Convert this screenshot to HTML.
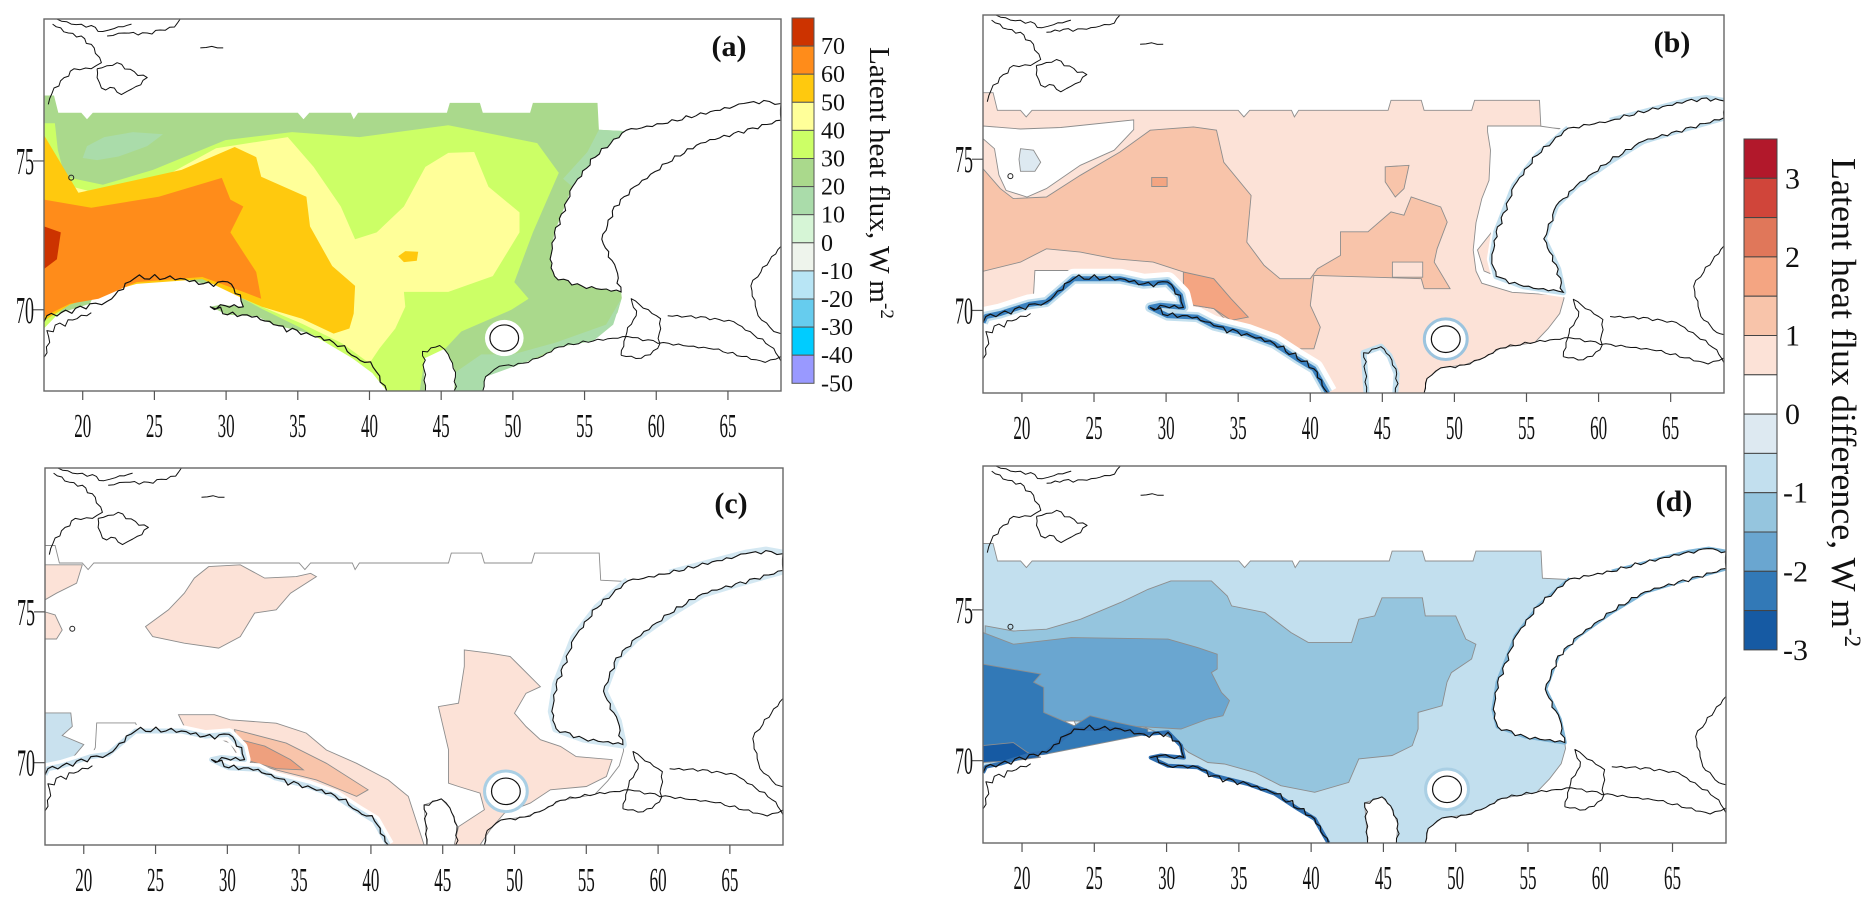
<!DOCTYPE html>
<html><head><meta charset="utf-8"><title>Latent heat flux maps</title>
<style>
html,body{margin:0;padding:0;background:#fff;}
svg{display:block;font-family:"Liberation Serif","DejaVu Serif",serif;}
</style></head>
<body>
<svg id="fig" width="1874" height="909" viewBox="0 0 1874 909" xmlns="http://www.w3.org/2000/svg">
<defs id="defs"></defs>
</svg>
<script>
// ---------- axis ranges & tick data ----------
const LON_MIN = 17.3, LON_MAX = 68.7, LAT_MIN = 67.27, LAT_MAX = 79.77;
const lonTicks = [20,25,30,35,40,45,50,55,60,65];
const latTicks = [70,75];
const panelLetters = ['(a)','(b)','(c)','(d)'];
const cbALabels = ['70','60','50','40','30','20','10','0','-10','-20','-30','-40','-50'];
const cbAColors = ['#cc3300','#ff8c1a','#ffc90e','#ffff99','#ccff66','#aad98c','#aadcaa','#d6f5d6','#eef4ec','#b8e5f5','#66ccee','#00ccff','#9999ff'];
const cbBLabels = ['3','','2','','1','','0','','-1','','-2','','-3'];
const cbBColors = ['#b2182b','#d0453a','#e0775a','#f4a582','#f8c4aa','#fce2d7','#ffffff','#dde9f1','#c2dfee','#95c5de','#6aa6d0','#3279b7','#165aa3'];

// ---------- map geometry (lon, lat) ----------
const OCEAN = [[17.3,77.2],[18.0,77.2],[18.3,76.62],[19.9,76.62],[20.3,76.4],[20.7,76.62],[35.0,76.62],[35.4,76.4],[35.8,76.62],[38.7,76.62],[38.9,76.4],[39.2,76.62],[45.4,76.62],[45.6,76.95],[47.7,76.95],[47.9,76.62],[51.2,76.62],[51.4,76.95],[55.9,76.95],[56.0,76.05],[58.0,76.0],[55.75,75.13],[54.15,74.13],[52.9,72.6],[52.6,71.7],[52.9,71.13],[54.8,70.8],[57.55,70.6],[57.6,70.4],[57.3,69.9],[56.5,69.4],[55.6,68.95],[53.2,68.75],[52.1,68.45],[50.7,68.2],[49.05,68.1],[48.1,67.75],[47.9,67.27],[45.9,67.27],[46.0,67.9],[45.5,68.5],[44.9,68.8],[43.7,68.6],[43.8,68.0],[43.9,67.27],[41.2,67.27],[40.25,68.07],[39.1,68.4],[37.5,68.9],[35.6,69.23],[33.3,69.5],[32.15,69.78],[30.1,69.83],[28.9,70.1],[29.6,70.17],[31.2,70.1],[31.0,70.5],[30.1,70.94],[28.45,70.88],[26.8,71.05],[23.8,71.1],[23.6,71.32],[20.9,71.32],[20.8,70.5],[20.5,70.2],[19.5,70.05],[18.5,69.9],[17.5,69.8],[17.3,69.6]];
const KOLGUEV = [49.4,69.05,1.0,0.44];

// panel (a) contour bands
const A_MINT = [[20.0,75.1],[20.3,75.5],[21.5,75.8],[23.5,75.97],[25.6,75.9],[24.5,75.5],[22.5,75.15],[21,75.03]];
const A_MINT_E = [[56.0,76.05],[58.0,76.0],[55.75,75.13],[54.15,74.13],[53.5,74.4],[55.2,75.3]];
const A_MINT_S = [[46.0,67.27],[46.0,67.9],[47.8,68.5],[50,68.5],[53,68.9],[56.5,69.5],[57.6,70.4],[57.0,69.5],[55.6,68.95],[53.2,68.75],[50.7,68.2],[48.1,67.75],[47.9,67.27]];
const A_LIME = [[17.3,76.27],[18.06,76.27],[18.26,75.37],[18.75,74.47],[21.4,74.2],[24.9,74.7],[29.95,75.7],[34.6,75.97],[39.3,75.8],[45.5,76.2],[51.7,75.6],[53.2,74.6],[51.4,72.6],[50.1,70.93],[51.1,70.37],[49.9,70.0],[46.4,69.27],[45.3,68.7],[43.85,68.37],[43.5,67.27],[41.2,67.27],[40.2,67.87],[38.8,68.37],[35.3,69.37],[32.5,70.03],[31.2,70.37],[28.35,71.13],[23.76,70.93],[21.1,70.6],[19.1,70.27],[17.3,69.37]];
const A_YELLOW = [[17.3,75.37],[18.06,75.03],[18.75,74.2],[21.4,73.87],[24.9,74.27],[29.3,75.43],[34.3,75.8],[36.1,74.8],[38.0,73.47],[39.0,72.37],[40.5,72.6],[42.4,73.47],[43.9,74.8],[45.5,75.27],[47.3,75.3],[48.3,74.13],[50.46,73.27],[50.46,72.6],[48.6,71.13],[45.5,70.6],[42.4,70.6],[42.5,70.1],[41.8,69.37],[40.7,68.7],[40.0,68.2],[38.1,68.87],[35.3,69.53],[32.5,70.1],[31.2,70.37],[28.35,71.13],[23.76,70.93],[21.1,70.6],[19.1,70.27],[17.3,69.7]];
const A_GOLD = [[17.3,75.87],[19.7,73.93],[26.9,74.7],[30.6,75.47],[32.1,75.13],[32.45,74.47],[35.6,73.8],[35.85,72.8],[37.4,71.47],[39.0,70.8],[38.9,69.87],[38.6,69.37],[37.5,69.2],[35.3,69.7],[32.5,70.1],[31.2,70.37],[28.35,71.03],[23.76,70.87],[21.1,70.5],[19.1,70.17],[17.3,69.63]];
const A_GOLD_DOT = [[42.0,71.8],[42.5,71.97],[43.4,71.95],[43.3,71.65],[42.4,71.6]];
const A_ORANGE = [[17.3,73.7],[20.6,73.43],[25.3,73.8],[29.7,74.43],[30.3,73.7],[31.2,73.47],[30.3,72.6],[31.2,71.93],[32.1,71.27],[32.45,70.37],[31.2,70.6],[28.35,71.1],[23.76,70.93],[21.1,70.37],[19.1,70.2],[17.3,69.77]];
const A_RED = [[17.3,72.8],[18.47,72.6],[18.2,71.7],[17.3,71.37]];

// panel (b)
const B_WHITE_N = [[17.3,76.1],[19.9,76.0],[22.7,76.05],[27.75,76.3],[27.75,75.98],[26.4,75.3],[24.05,74.8],[21.7,74.03],[20.35,73.75],[18.9,73.97],[18.4,74.48],[18.1,75.35],[17.3,75.68]];
const B_BLUE_N = [[19.9,75.35],[20.8,75.3],[21.3,74.9],[20.9,74.6],[19.9,74.6],[19.8,75.0]];
const B_WHITE_E = [[52.3,76.1],[55.9,76.1],[57.9,75.96],[56,74.2],[53.7,73.3],[52.5,72.54],[51.6,72.0],[52.06,71.3],[54.1,70.9],[57.4,70.7],[57.4,70.5],[54,70.6],[51.9,70.9],[51.5,71.3],[51.3,72.0],[51.5,72.9],[51.9,73.7],[52.4,74.3],[52.5,75.3],[52.3,75.9]];
const B_MID = [[17.1,74.8],[18.5,74.03],[19.4,73.7],[21.7,73.75],[24.05,74.47],[26.8,75.24],[28.9,75.96],[31.9,76.07],[33.5,75.96],[34.0,74.9],[35.9,73.8],[35.6,72.26],[36.8,71.49],[37.9,71.05],[40.0,71.05],[40.5,71.38],[42.1,71.82],[42.1,72.6],[44.0,72.6],[45.6,73.26],[46.5,73.15],[47.0,73.75],[49.05,73.42],[49.5,72.92],[48.8,72.04],[48.6,71.6],[49.7,70.72],[47.9,70.72],[47.7,71.05],[40.25,71.16],[40.0,70.17],[40.7,69.45],[40.25,68.73],[39.1,68.73],[37.9,69.06],[36.1,69.39],[34.2,69.67],[33.3,70.06],[31.9,70.17],[31.2,70.5],[31.2,71.27],[29.1,71.6],[26.4,71.71],[24.05,71.93],[21.7,72.04],[19.9,71.6],[17.1,71.27]];
const B_MID_BLOB = [[45.2,74.75],[46.85,74.8],[46.5,74.03],[45.9,73.75],[45.2,74.25]];
const B_LIGHT_RECT = [[45.7,71.6],[47.8,71.6],[47.8,71.1],[45.7,71.1]];
const B_HIGH = [[31.2,71.27],[33.3,71.05],[34.5,70.39],[35.7,69.78],[34.5,69.67],[33.3,70.06],[31.9,70.17],[31.2,70.5]];
const B_HIGH_SQ = [[29.0,74.4],[30.07,74.4],[30.07,74.1],[29.0,74.1]];

// panel (c)
const C_P1 = [[28.7,76.5],[30.9,76.56],[32.6,76.12],[34.8,76.17],[35.8,76.28],[36.2,76.17],[34.4,75.62],[33.4,75.07],[31.9,74.96],[30.9,74.18],[29.4,73.8],[27.0,73.96],[24.8,74.18],[24.3,74.51],[25.9,75.07],[27.0,75.62],[27.7,76.12]];
const C_P2A = [[17.3,76.56],[19.9,76.56],[19.5,75.95],[18.1,75.62],[17.3,75.4]];
const C_P2B = [[17.3,75.0],[18.0,74.9],[18.5,74.4],[18.1,74.1],[17.3,74.1]];
const C_P3 = [[26.6,71.59],[29.1,71.59],[30.2,71.42],[33.4,71.31],[35.5,70.98],[36.9,70.42],[39.0,69.98],[41.2,69.43],[42.6,68.88],[43.7,67.27],[41.2,67.27],[40.5,67.88],[39.0,68.44],[36.9,68.88],[34.4,69.43],[32.6,69.76],[30.9,70.1],[30.2,70.65],[28.4,70.98],[27.0,71.2]];
const C_P3_MID = [[30.5,71.1],[34.1,70.65],[36.9,69.98],[39.8,69.1],[39.0,68.88],[36.2,69.43],[33.4,69.76],[30.9,70.1]];
const C_P3_HIGH = [[30.9,70.76],[32.6,70.55],[34.4,70.1],[35.3,69.76],[33.4,69.8],[31.2,70.1]];
const C_RED = [[30.3,70.1],[31.4,70.1],[31.4,69.76],[30.3,69.76]];
const C_P4 = [[46.5,73.74],[48.3,73.63],[49.7,73.52],[50.4,73.19],[51.8,72.52],[50.8,72.3],[50.0,71.64],[50.8,71.2],[51.8,70.76],[53.2,70.54],[54.3,70.2],[56.8,70.1],[56.4,69.54],[55.0,69.21],[52.5,69.1],[51.1,68.66],[49.3,68.33],[48.3,67.77],[47.6,67.27],[45.8,67.27],[46.1,67.88],[47.9,68.44],[47.6,68.99],[46.1,69.21],[45.4,69.32],[45.4,70.43],[44.7,71.86],[46.1,71.97],[46.5,73.19]];
const C_BLUE_W = [[17.3,71.65],[19.1,71.65],[19.2,71.2],[18.5,70.9],[20.0,70.6],[19.3,70.2],[17.3,69.8]];

// panel (d)
const D_MED = [[17.45,74.47],[19.4,74.3],[21.7,74.36],[24.05,74.69],[26.8,75.24],[28.7,75.68],[30.3,75.96],[33.1,75.96],[34.2,75.46],[34.5,75.13],[36.8,74.91],[38.6,74.25],[39.8,73.92],[42.8,73.92],[43.3,74.69],[44.4,74.8],[44.9,75.4],[47.7,75.4],[47.9,74.8],[50.0,74.8],[50.7,74.03],[51.4,73.86],[51.1,73.37],[49.7,72.92],[49.4,72.6],[49.05,71.82],[47.4,71.6],[47.4,71.05],[47.0,70.5],[45.6,70.17],[43.3,70.06],[42.6,69.28],[40.25,68.95],[37.9,69.17],[36.1,69.61],[34.0,69.89],[32.85,69.94],[31.5,70.28],[30.5,70.72],[28.2,71.16],[24.05,71.38],[17.3,71.38]];
const D_STRONG = [[17.3,74.25],[19.4,73.86],[23.4,74.08],[30.1,74.03],[32.15,73.75],[33.5,73.53],[33.5,73.04],[33.1,72.92],[33.8,72.26],[34.35,71.99],[33.9,71.49],[32.85,71.38],[31.0,71.05],[27.1,71.16],[24.05,71.32],[17.3,71.27]];
const D_STRONGER = [[17.3,73.2],[21.3,72.87],[20.8,72.6],[21.5,72.43],[21.5,71.6],[23.6,71.16],[24.7,71.49],[26.6,71.27],[28.7,71.05],[28.7,70.88],[21.5,70.2],[17.3,70.06]];
const D_STRONGEST = [[17.3,70.5],[19.4,70.6],[20.35,70.28],[21.3,70.11],[19.4,70.0],[17.3,69.94]];

// coastlines
const COAST_NOR = [[17.3,69.6],[17.5,69.8],[18.5,69.9],[19.5,70.05],[20.5,70.2],[21.7,70.28],[23.6,71.05],[26.8,71.05],[28.45,70.88],[30.1,70.94],[31.0,70.5],[31.2,70.1],[29.6,70.17],[28.9,70.1],[30.1,69.83],[32.15,69.78],[33.3,69.5],[35.6,69.23],[37.5,68.9],[39.1,68.4],[40.25,68.07],[41.2,67.27]];
const COAST_NOR2 = [[17.3,68.4],[17.7,68.9],[17.5,69.3],[18.4,69.55],[19.6,69.7],[20.6,69.9]];
const COAST_WS = [[43.9,67.27],[43.8,68.0],[43.7,68.6],[44.9,68.8],[45.5,68.5],[46.0,67.9],[45.9,67.27]];
const COAST_E = [[47.9,67.27],[48.1,67.75],[49.05,68.1],[50.7,68.2],[52.1,68.45],[53.2,68.75],[55.6,68.95],[58.0,69.1],[60.5,68.9],[64,68.67],[67.6,68.23],[68.7,68.43]];
const COAST_VAY = [[57.55,68.47],[58.95,68.37],[60.1,68.7],[60.3,69.7],[58.25,70.37],[58.6,69.8],[58.0,69.4],[57.55,68.47]];
const COAST_KARA = [[60.8,69.8],[63.1,69.77],[65.4,69.6],[68.2,68.7],[68.7,68.27]];
const COAST_YAMAL = [[68.7,72.13],[67.3,71.27],[66.6,70.8],[67.1,69.8],[68.2,69.27],[68.7,69.2]];
const NZ = [[57.9,76.03],[55.75,75.13],[54.15,74.13],[52.9,72.6],[52.6,71.7],[52.9,71.13],[54.8,70.8],[57.55,70.6],[57.2,71.37],[56.2,72.37],[57.07,73.47],[58.46,74.13],[60.8,74.93],[63.1,75.6],[65.4,75.93],[68.7,76.37],[68.7,76.93],[67.5,77.03],[66.1,76.93],[60.8,76.27]];
const SVAL1 = [[17.9,79.6],[19.0,79.3],[19.9,79.2],[20.8,78.8],[21.3,78.3],[20.6,78.1],[19.4,78.1],[18.7,77.8],[18.0,77.45],[17.7,77.1],[17.6,76.9]];
const SVAL2 = [[21.0,78.1],[21.7,78.2],[22.4,78.3],[23.6,78.0],[24.5,77.8],[24.05,77.56],[23.1,77.34],[22.7,77.23],[22.2,77.45],[21.3,77.45],[21.0,77.8],[21.0,78.1]];
const SVAL3 = [[21.7,79.2],[22.9,79.3],[24.5,79.3],[25.4,79.4],[26.4,79.5],[26.8,79.77]];
const SVAL4 = [[18.2,79.77],[19.2,79.6],[20.6,79.55],[21.4,79.35],[22.2,79.45],[23.4,79.6]];
const ISLE = [[28.2,78.8],[29.0,78.85],[29.8,78.8]];

const PANELS = [
  {id:'a', x0:44, y0:19, x1:781, y1:391},
  {id:'b', x0:983, y0:15, x1:1724, y1:393},
  {id:'c', x0:45, y0:468, x1:783, y1:845},
  {id:'d', x0:983, y0:466, x1:1726, y1:843}
];

const NS = 'http://www.w3.org/2000/svg';
const svg = document.getElementById('fig');
const defs = document.getElementById('defs');
function mk(tag, attrs, parent){
  const e = document.createElementNS(NS, tag);
  for (const k in attrs) e.setAttribute(k, attrs[k]);
  (parent||svg).appendChild(e);
  return e;
}
function xScale(p, lon){ return p.x0 + (lon-LON_MIN)/(LON_MAX-LON_MIN)*(p.x1-p.x0); }
function yScale(p, lat){ return p.y0 + (LAT_MAX-lat)/(LAT_MAX-LAT_MIN)*(p.y1-p.y0); }
function pts(p, arr){ return arr.map(q => xScale(p,q[0]).toFixed(1)+','+yScale(p,q[1]).toFixed(1)).join(' '); }
function jagPath(p, arr, amp){
  let d = '';
  let k = 0;
  for (let i=0;i<arr.length;i++){
    const x = xScale(p,arr[i][0]), y = yScale(p,arr[i][1]);
    if (i===0){ d += 'M'+x.toFixed(1)+' '+y.toFixed(1); continue; }
    const px = xScale(p,arr[i-1][0]), py = yScale(p,arr[i-1][1]);
    const len = Math.hypot(x-px,y-py);
    const n = Math.max(1, Math.round(len/5));
    const nx = -(y-py)/(len||1), ny = (x-px)/(len||1);
    for (let j=1;j<=n;j++){
      const t = j/n;
      k++;
      const off = (j<n) ? amp*Math.sin(k*2.3)*((k%3===0)?1.8:0.6) : 0;
      d += ' L'+(px+(x-px)*t+nx*off).toFixed(1)+' '+(py+(y-py)*t+ny*off).toFixed(1);
    }
  }
  return d;
}
function band(g, p, arr, fill, name, stroke){
  const el = mk('polygon', {points: pts(p,arr), fill: fill, stroke: stroke||'none', 'stroke-width': stroke?0.9:0}, g);
  
  
  return el;
}
function line(g, p, arr, color, w, name, closed){
  const el = mk(closed?'polygon':'polyline', {points: pts(p,arr), fill: closed?'#fff':'none', stroke: color, 'stroke-width': w, 'stroke-linejoin':'round'}, g);
  
  
  return el;
}
function jag(g, p, arr, color, w, amp, name){
  const el = mk('path', {d: jagPath(p,arr,amp), fill:'none', stroke: color, 'stroke-width': w, 'stroke-linejoin':'round'}, g);
  
  
  return el;
}

PANELS.forEach((p, idx) => {
  const clip = mk('clipPath', {id:'clip-'+p.id}, defs);
  mk('rect', {x:p.x0, y:p.y0, width:p.x1-p.x0, height:p.y1-p.y0}, clip);
  const g = mk('g', {'clip-path':'url(#clip-'+p.id+')'});
  
  
  const grey = (p.id==='a') ? null : '#8d8d8d';

  if (p.id==='a'){
    band(g,p,OCEAN,'#aad98c','ocean-band-20-30');
    band(g,p,A_MINT_S,'#aadcaa','band-10-20-south');
    band(g,p,A_MINT_E,'#aadcaa','band-10-20-east');
    band(g,p,A_MINT,'#aadcaa','band-10-20-north');
    band(g,p,A_LIME,'#ccff66','band-30-40');
    band(g,p,A_YELLOW,'#ffff99','band-40-50');
    band(g,p,A_GOLD,'#ffc90e','band-50-60');
    band(g,p,A_GOLD_DOT,'#ffc90e','band-50-60-spot');
    band(g,p,A_ORANGE,'#ff8c1a','band-60-70');
    band(g,p,A_RED,'#cc3300','band-70-plus');
  } else if (p.id==='b'){
    band(g,p,OCEAN,'#fce2d7','ocean-diff-0.5-1',grey);
    band(g,p,B_WHITE_N,'#ffffff','diff-0-0.5-north',grey);
    band(g,p,B_BLUE_N,'#dde9f1','diff-neg-north',grey);
    band(g,p,B_WHITE_E,'#ffffff','diff-0-0.5-east',grey);
    band(g,p,B_MID,'#f8c4aa','diff-1-1.5',grey);
    band(g,p,B_MID_BLOB,'#f8c4aa','diff-1-1.5-blob',grey);
    band(g,p,B_LIGHT_RECT,'#fce2d7','diff-0.5-1-patch',grey);
    band(g,p,B_HIGH,'#f4a582','diff-1.5-2',grey);
    band(g,p,B_HIGH_SQ,'#f4a582','diff-1.5-2-square',grey);
  } else if (p.id==='c'){
    band(g,p,OCEAN,'#ffffff','ocean-diff-0-0.5',grey);
    band(g,p,C_P1,'#fce2d7','diff-0.5-1-north',grey);
    band(g,p,C_P2A,'#fce2d7','diff-0.5-1-west-a',grey);
    band(g,p,C_P2B,'#fce2d7','diff-0.5-1-west-b',grey);
    band(g,p,C_P4,'#fce2d7','diff-0.5-1-east',grey);
    band(g,p,C_P3,'#fce2d7','diff-0.5-1-coast',grey);
    band(g,p,C_P3_MID,'#f8c4aa','diff-1-1.5-coast',grey);
    band(g,p,C_P3_HIGH,'#eea07e','diff-1.5-2-coast',grey);
    band(g,p,C_RED,'#b2182b','diff-above-3');
    band(g,p,C_BLUE_W,'#c9e1ee','diff-neg-west',grey);
  } else {
    band(g,p,OCEAN,'#c2dfee','ocean-diff-neg-0.5-1',grey);
    band(g,p,D_MED,'#95c5de','diff-neg-1-1.5',grey);
    band(g,p,D_STRONG,'#6aa6d0','diff-neg-1.5-2',grey);
    band(g,p,D_STRONGER,'#3279b7','diff-neg-2-2.5',grey);
    band(g,p,D_STRONGEST,'#165aa3','diff-neg-2.5-3',grey);
  }

  // coastal margins
  if (p.id==='b'){
    line(g,p,COAST_NOR,'#ffffff',20,'coast-margin');
    line(g,p,COAST_NOR,'#c2dfee',10,'coast-margin-light');
    line(g,p,COAST_NOR,'#3b82c0',5,'coast-margin-blue');
    line(g,p,NZ,'#ffffff',10,'nz-margin');
    line(g,p,NZ,'#c2dfee',6,'nz-margin-light');
    line(g,p,COAST_WS,'#c2dfee',6,'whitesea-margin');
  } else if (p.id==='c'){
    line(g,p,COAST_NOR,'#ffffff',12,'coast-margin');
    line(g,p,COAST_NOR,'#c9e1ee',5,'coast-margin-light');
    line(g,p,NZ,'#d4e8f2',8,'nz-margin-light');
  } else if (p.id==='d'){
    line(g,p,COAST_NOR,'#2f6fb0',4,'coast-margin-blue');
    line(g,p,NZ,'#7fb6d8',4,'nz-margin-blue');
  }

  // Kolguev island
  const kx = xScale(p,KOLGUEV[0]), ky = yScale(p,KOLGUEV[1]);
  const krx = xScale(p,KOLGUEV[0]+KOLGUEV[2]) - kx, kry = ky - yScale(p,KOLGUEV[1]+KOLGUEV[3]);
  if (p.id!=='a'){
    const ring = mk('ellipse',{cx:kx,cy:ky,rx:krx+7,ry:kry+7,fill:'#ffffff',stroke:(p.id==='b'?'#9cc4de':'#aacfe4'),'stroke-width':3},g);
    
    
  } else {
    const ring = mk('ellipse',{cx:kx,cy:ky,rx:krx+5,ry:kry+5,fill:'#ffffff'},g);
    
    
  }
  const kol = mk('ellipse',{cx:kx,cy:ky,rx:krx,ry:kry,fill:'#ffffff',stroke:'#111','stroke-width':1.2},g);
  
  

  // coastlines
  jag(g,p,COAST_NOR,'#111',1.2,2.2,'coastline-norway-kola');
  jag(g,p,COAST_NOR2,'#111',1,2.5,'coastline-norway-islands');
  jag(g,p,COAST_WS,'#111',1,1.2,'coastline-white-sea');
  jag(g,p,COAST_E,'#111',1,1.0,'coastline-pechora');
  jag(g,p,COAST_VAY,'#111',1,1.0,'coastline-vaygach');
  jag(g,p,COAST_KARA,'#111',1,1.0,'coastline-kara');
  jag(g,p,COAST_YAMAL,'#111',1,1.0,'coastline-yamal');
  const nz = mk('path',{d: jagPath(p, NZ.concat([NZ[0]]), 1.4)+' Z', fill:'#ffffff', stroke:'#111','stroke-width':1.1},g);
  
  
  jag(g,p,SVAL1,'#111',1,1.2,'coastline-svalbard-west');
  jag(g,p,SVAL2,'#111',1,1.2,'coastline-svalbard-south');
  jag(g,p,SVAL3,'#111',1,1.2,'coastline-svalbard-north');
  jag(g,p,SVAL4,'#111',1,1.2,'coastline-svalbard-top');
  jag(g,p,ISLE,'#111',1,0.8,'small-island');
  const bear = mk('circle',{cx:xScale(p,19.2),cy:yScale(p,74.44),r:2.5,fill:'none',stroke:'#222','stroke-width':1},g);
  
  

  // frame
  const fr = mk('rect',{x:p.x0,y:p.y0,width:p.x1-p.x0,height:p.y1-p.y0,fill:'none',stroke:'#666','stroke-width':1.4});
  
  

  // ticks
  lonTicks.forEach(v => {
    const x = xScale(p,v);
    const t = mk('line',{x1:x,y1:p.y1,x2:x,y2:p.y1+9,stroke:'#555','stroke-width':1.2});
    
    
    const lb = mk('text',{x:x,y:p.y1+46,'text-anchor':'middle','font-size':34,textLength:17,lengthAdjust:'spacingAndGlyphs',fill:'#111'});
    lb.textContent = String(v);
    
    
  });
  latTicks.forEach(v => {
    const y = yScale(p,v);
    const t = mk('line',{x1:p.x0-11,y1:y,x2:p.x0,y2:y,stroke:'#555','stroke-width':1.2});
    
    
    const lb = mk('text',{x:p.x0-28,y:y+13,'text-anchor':'start','font-size':38,textLength:18,lengthAdjust:'spacingAndGlyphs',fill:'#111'});
    lb.textContent = String(v);
    
    
  });
  const pl = mk('text',{x:p.x1-52,y:p.y0+(p.id==='a'||p.id==='b'?37:45),'text-anchor':'middle','font-size':30,'font-weight':'bold',fill:'#111'});
  pl.textContent = panelLetters[idx];
  
  
});

// ---------- colorbar (a) ----------
(function(){
  const x0 = 792, w = 22, top = 18, h = 28.1;
  cbAColors.forEach((c,i) => {
    const r = mk('rect',{x:x0,y:top+i*h,width:w,height:h,fill:c,stroke:'#555','stroke-width':1});
    
    
  });
  cbALabels.forEach((s,i) => {
    const t = mk('text',{x:821,y:top+(i+1)*h+8,'font-size':24,fill:'#111'});
    t.textContent = s;
    
    
  });
  const title = mk('text',{x:0,y:0,transform:'translate(870,47) rotate(90)','font-size':29,fill:'#111'});
  
  
  const t1 = mk('tspan',{textLength:256,lengthAdjust:'spacingAndGlyphs'},title);
  t1.textContent = 'Latent heat flux, W m';
  const t2 = mk('tspan',{dy:-11,'font-size':19},title);
  t2.textContent = '-2';
})();

// ---------- colorbar (b, c, d) ----------
(function(){
  const x0 = 1744, w = 33, top = 139, h = 39.3;
  cbBColors.forEach((c,i) => {
    const r = mk('rect',{x:x0,y:top+i*h,width:w,height:h,fill:c,stroke:'#444','stroke-width':1});
    
    
  });
  cbBLabels.forEach((s,i) => {
    if (!s) return;
    const t = mk('text',{x:(s[0]==='-'?1783:1785),y:top+(i+1)*h+10,'font-size':30,fill:'#111'});
    t.textContent = s;
    
    
  });
  const title = mk('text',{x:0,y:0,transform:'translate(1832,158) rotate(90)','font-size':35,fill:'#111'});
  
  
  const t1 = mk('tspan',{textLength:470,lengthAdjust:'spacingAndGlyphs'},title);
  t1.textContent = 'Latent heat flux difference, W m';
  const t2 = mk('tspan',{dy:-13,'font-size':23},title);
  t2.textContent = '-2';
})();
</script>
</body></html>
